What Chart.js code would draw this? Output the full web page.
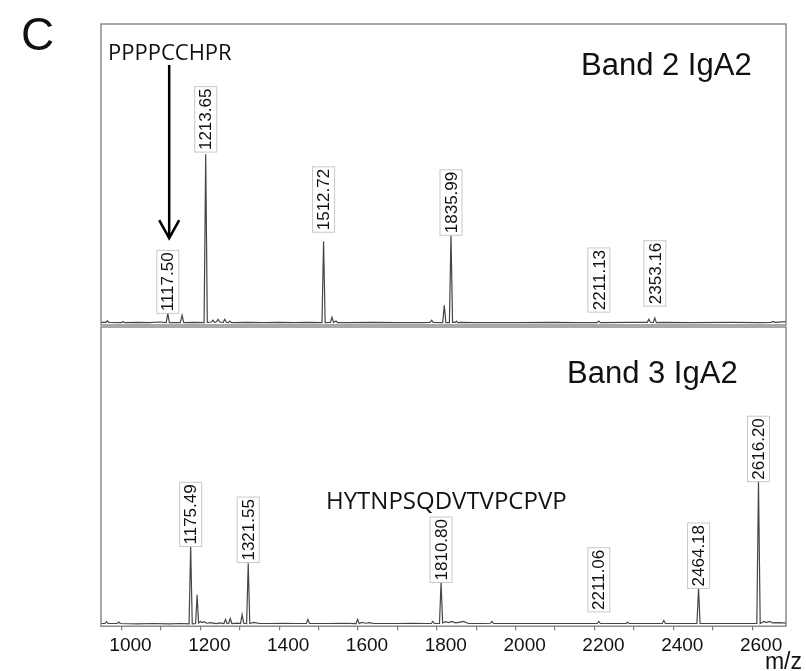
<!DOCTYPE html>
<html>
<head>
<meta charset="utf-8">
<script src="https://cdn.jsdelivr.net/npm/chart.js@4"></script>
<style>
  body { margin: 0; background: #fff; }
  #wrap { position: relative; width: 806px; height: 671px; }
  canvas { position: absolute; left: 0; }
</style>
</head>
<body>
<div id="wrap">
  <canvas id="topChart" width="806" height="326" style="top:0"></canvas>
  <canvas id="botChart" width="806" height="345" style="top:326px"></canvas>
</div>
<script>
// m/z range and axis ticks
var mzMin = 948, mzMax = 2686;
var tickStep = 100, labelStep = 200;

// Band 2 IgA2 spectrum: [m/z, relative intensity %]
var band2Spectrum = [
  [948,0.3],[960,0.3],[964,0.8],[968,0.3],[1000,0.2],[1004,0.6],[1008,0.2],[1040,0.3],[1070,0.2],
  [1095,0.4],[1113.5,0.2],[1117.5,3.3],[1121.5,0.2],[1149.5,0.2],[1153.8,2.7],[1158,0.2],[1185,0.3],
  [1209.6,0.2],[1213.65,56.5],[1217.7,0.3],[1228,0.4],[1232,1.0],[1236,0.3],[1241,0.5],[1245,1.3],
  [1249,0.4],[1258,0.3],[1262,1.3],[1266,0.3],[1271,0.2],[1275,0.7],[1279,0.2],[1320,0.3],[1360,0.2],
  [1400,0.3],[1440,0.2],[1470,0.3],[1508.7,0.2],[1512.72,27.4],[1516.7,0.2],[1530,0.3],[1534,2.0],
  [1538,0.3],[1542,0.6],[1545,0.7],[1548,0.2],[1570,0.2],[1640,0.3],[1700,0.2],[1760,0.2],[1783,0.3],
  [1787,1.0],[1791,0.3],[1815,0.2],[1819,6.0],[1823,0.2],[1832,0.2],[1835.99,29.4],[1840,0.3],
  [1847,0.3],[1850,0.7],[1853,0.2],[1860,0.3],[1900,0.2],[2000,0.2],[2100,0.3],[2150,0.2],[2207,0.2],
  [2211.13,0.7],[2215,0.2],[2290,0.3],[2334,0.3],[2338,1.3],[2342,0.3],[2349,0.2],[2353.16,1.7],
  [2357,0.2],[2370,0.3],[2450,0.2],[2550,0.3],[2620,0.2],[2648,0.3],[2653,0.6],[2658,0.3],[2686,0.5]
];
var band2Peaks = [1117.50, 1213.65, 1512.72, 1835.99, 2211.13, 2353.16];
var band2LabelBase = [3.3, 57.2, 30.4, 29.4, 3.7, 5.7];

// Band 3 IgA2 spectrum
var band3Spectrum = [
  [948,0.3],[958,0.3],[962,0.9],[966,0.3],[989,0.3],[993,0.8],[997,0.3],[1040,0.2],[1080,0.3],
  [1120,0.2],[1150,0.3],[1171.5,0.2],[1175.49,26.3],[1179.5,0.2],[1188,0.3],[1191.9,10],[1195.5,0.5],
  [1200,1.0],[1205,0.6],[1210,0.9],[1216,0.4],[1225,0.6],[1240,0.3],[1250,0.5],[1260,0.3],[1264,1.7],
  [1268,0.3],[1272,0.4],[1276,2.0],[1280,0.3],[1295,0.4],[1302,0.3],[1306,3.3],[1310,0.4],[1317.5,0.3],
  [1321.55,20.6],[1325.5,0.3],[1335,0.7],[1342,0.5],[1350,0.3],[1380,0.3],[1410,0.4],[1440,0.3],
  [1469,0.3],[1473,1.7],[1477,0.3],[1520,0.3],[1560,0.4],[1595,0.3],[1599,1.7],[1603,0.3],[1610,0.7],
  [1620,0.4],[1630,0.6],[1640,0.3],[1700,0.3],[1740,0.4],[1770,0.3],[1786,0.3],[1790,1.0],[1794,0.3],
  [1806.8,0.3],[1810.8,14.1],[1814.8,0.5],[1822,0.9],[1830,0.6],[1838,1.0],[1848,0.5],[1856,0.7],
  [1868,1.0],[1880,0.3],[1920,0.3],[1936,0.4],[1940,1.0],[1944,0.3],[1990,0.3],[2050,0.3],[2100,0.3],
  [2150,0.3],[2207,0.3],[2211.06,1.0],[2215,0.3],[2280,0.3],[2284,0.7],[2288,0.3],[2330,0.3],[2372,0.3],
  [2376,1.3],[2380,0.3],[2420,0.3],[2460,0.3],[2464.18,12.1],[2468,0.3],[2520,0.3],[2580,0.3],
  [2612,0.3],[2616.2,48.2],[2620.5,0.3],[2630,1.0],[2636,0.6],[2645,1.0],[2652,0.5],[2668,0.6],[2686,0.4]
];
var band3Peaks = [1175.49, 1321.55, 1810.80, 2211.06, 2464.18, 2616.20];
var band3LabelBase = [26.2, 20.8, 14.1, 4.2, 12.1, 48.0];

// arrow pointing at 1117.50 (m/z, from % to %)
var arrowMz = 1121, arrowFrom = 86.3, arrowTo = 28.4;

var sansFont = '"Liberation Sans", Arial, sans-serif';
var seqFont = '"Open Sans", "Noto Sans", sans-serif';

function toPoints(spec){
  return spec.map(function(p){ return {x: p[0], y: p[1]}; });
}

// draws the frame, peak labels and texts of a panel
var panelPlugin = {
  id: 'panel',
  afterDatasetsDraw: function(chart){
    var o = chart.options.plugins.panel;
    var ctx = chart.ctx, a = chart.chartArea;
    var xs = chart.scales.x, ys = chart.scales.y;
    ctx.save();
    ctx.strokeStyle = '#7a7a7a';
    ctx.lineWidth = 1.3;
    ctx.strokeRect(a.left, a.top, a.right - a.left, a.bottom - a.top);

    // peak labels
    ctx.font = '17px ' + sansFont;
    for (var i = 0; i < o.peaks.length; i++){
      var txt = o.peaks[i].toFixed(2);
      var px = xs.getPixelForValue(o.peaks[i]);
      var py = ys.getPixelForValue(o.labelBase[i]);
      var w = ctx.measureText(txt).width + 4;
      ctx.save();
      ctx.translate(px, py);
      ctx.rotate(-Math.PI / 2);
      ctx.fillStyle = '#fff';
      ctx.fillRect(0, -11, w, 22);
      ctx.strokeStyle = '#c8c8c8';
      ctx.lineWidth = 1;
      ctx.strokeRect(0, -11, w, 22);
      ctx.fillStyle = '#111';
      ctx.textAlign = 'center';
      ctx.textBaseline = 'middle';
      ctx.fillText(txt, w / 2, 1);
      ctx.restore();
    }

    // band title
    ctx.fillStyle = '#111';
    ctx.font = '31px ' + sansFont;
    ctx.textAlign = 'left';
    ctx.textBaseline = 'alphabetic';
    ctx.fillText(o.title, o.titleX, o.titleY);

    // sequence
    ctx.font = o.seqSize + 'px ' + seqFont;
    ctx.fillText(o.seq, o.seqX, o.seqY);

    if (o.arrow){
      var ax = xs.getPixelForValue(arrowMz);
      var y1 = ys.getPixelForValue(arrowFrom), y2 = ys.getPixelForValue(arrowTo);
      ctx.strokeStyle = '#000';
      ctx.lineWidth = 2.5;
      ctx.beginPath();
      ctx.moveTo(ax, y1); ctx.lineTo(ax, y2);
      ctx.moveTo(ax - 10, y2 - 18); ctx.lineTo(ax, y2); ctx.lineTo(ax + 10, y2 - 18);
      ctx.stroke();
      ctx.font = '46px ' + sansFont;
      ctx.fillText('C', 21, 50);
    }
    if (o.unit){
      ctx.font = '23px ' + sansFont;
      ctx.textAlign = 'right';
      ctx.fillText('m/z', 802, 343);
    }
    ctx.restore();
  }
};

function makeChart(id, spec, panelOpts, showX, pad){
  return new Chart(document.getElementById(id), {
    type: 'line',
    data: {
      datasets: [{
        data: toPoints(spec),
        borderColor: '#454545',
        borderWidth: 1.2,
        pointRadius: 0,
        tension: 0,
        fill: false
      }]
    },
    options: {
      responsive: false,
      animation: false,
      layout: { padding: pad },
      plugins: { legend: { display: false }, tooltip: { enabled: false }, panel: panelOpts },
      scales: {
        x: {
          type: 'linear',
          min: mzMin,
          max: mzMax,
          display: showX,
          afterBuildTicks: function(s){ s.ticks = s.ticks.filter(function(t){ return t.value % tickStep === 0; }); },
          ticks: {
            stepSize: tickStep,
            includeBounds: false,
            autoSkip: false,
            maxRotation: 0,
            labelOffset: 9,
            padding: 4,
            color: '#111',
            font: { family: sansFont, size: 19 },
            callback: function(v){ return v % labelStep === 0 ? String(v) : ''; }
          },
          grid: { drawOnChartArea: false, drawTicks: true, tickLength: 4, color: '#7a7a7a', lineWidth: 1.2 },
          border: { display: false }
        },
        y: { min: -0.6, max: 100, display: false }
      }
    },
    plugins: [panelPlugin]
  });
}

makeChart('topChart', band2Spectrum, {
  peaks: band2Peaks, labelBase: band2LabelBase,
  title: 'Band 2 IgA2', titleX: 581, titleY: 75,
  seq: 'PPPPCCHPR', seqSize: 22, seqX: 108, seqY: 60, arrow: true
}, false, { left: 101, right: 20, top: 24, bottom: 1 });

makeChart('botChart', band3Spectrum, {
  peaks: band3Peaks, labelBase: band3LabelBase,
  title: 'Band 3 IgA2', titleX: 567, titleY: 57,
  seq: 'HYTNPSQDVTVPCPVP', seqSize: 24, seqX: 326, seqY: 183, unit: true
}, true, { left: 101, right: 20, top: 1, bottom: 10 });
</script>
</body>
</html>
